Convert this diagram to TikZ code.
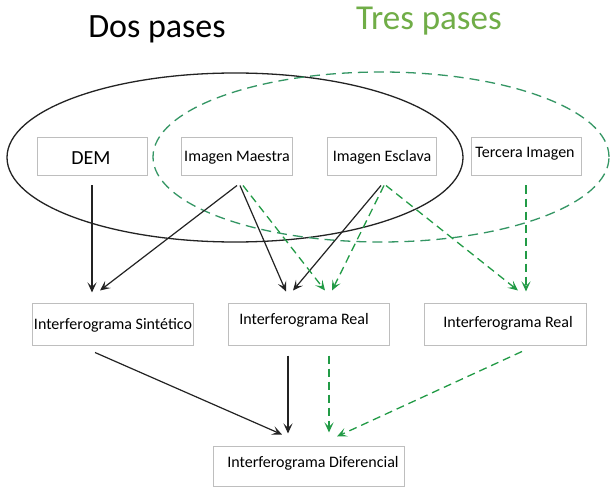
\documentclass[tikz,border=0pt]{standalone}
\usepackage{fontspec}
\setmainfont{Carlito}
\usetikzlibrary{arrows.meta,calc}
\definecolor{ellgreen}{RGB}{52,150,100}
\definecolor{arrgreen}{RGB}{34,155,70}
\definecolor{titlegreen}{RGB}{112,173,71}
\definecolor{boxgray}{RGB}{190,190,190}
\definecolor{linek}{RGB}{35,35,35}
\tikzset{
  box/.style={draw=boxgray, line width=1pt, fill=white, inner sep=0pt},
  lbl/.style={font=\fontsize{16}{19}\selectfont, inner sep=0pt},
  karr/.style={draw=linek, line width=1.2pt, -{Stealth[length=10pt,width=9pt,inset=4.5pt]}},
  garr/.style={draw=arrgreen, line width=1.3pt, dash pattern=on 8pt off 5pt, -{Stealth[length=10pt,width=9pt,inset=4.5pt]}},
}
\begin{document}
\begin{tikzpicture}[x=1pt,y=-1pt]
\useasboundingbox[fill=white] (0,0) rectangle (616,492);

% titles
\node[anchor=base, font=\fontsize{34}{40}\selectfont, inner sep=0pt] (t1) at (157,37.5) {Dos pases};
\node[anchor=base, font=\fontsize{35}{41}\selectfont, text=titlegreen, inner sep=0pt] (t2) at (429,30) {Tres pases};

% ellipses
\draw[linek, line width=1.3pt] (235,157.5) ellipse [x radius=228pt, y radius=84.5pt];
\draw[ellgreen, line width=1.3pt, dash pattern=on 10pt off 6pt] (381,157) ellipse [x radius=228pt, y radius=85pt];

% top row boxes
\node[box, minimum width=110pt, minimum height=38pt] (dem) at (92,157) {};
\node[font=\fontsize{20}{24}\selectfont, inner sep=0pt] at ([shift={(-1,1)}]dem.center) {DEM};
\node[box, minimum width=111pt, minimum height=38pt] (ma) at (236.5,157) {};
\node[lbl] at ([shift={(0.5,1)}]ma.center) {Imagen Maestra};
\node[box, minimum width=109pt, minimum height=38pt] (es) at (381.5,157) {};
\node[lbl] at ([shift={(0.5,0)}]es.center) {Imagen Esclava};
\node[box, minimum width=110pt, minimum height=38pt] (te) at (526,157) {};
\node[lbl] at ([shift={(-1,-3.5)}]te.center) {Tercera Imagen};

% second row boxes
\node[box, minimum width=161pt, minimum height=42pt] (sint) at (112.5,324) {};
\node[lbl] at ([shift={(0.5,1)}]sint.center) {Interferograma Sintético};
\node[box, minimum width=161pt, minimum height=42pt] (r1) at (308.5,324) {};
\node[lbl] at ([shift={(-4.5,-3.5)}]r1.center) {Interferograma Real};
\node[box, minimum width=162pt, minimum height=42pt] (r2) at (505,324) {};
\node[lbl] at ([shift={(3,-1)}]r2.center) {Interferograma Real};

% bottom box
\node[box, minimum width=191pt, minimum height=40pt] (dif) at (308.5,466) {};
\node[lbl] at ([shift={(4.5,-2.5)}]dif.center) {Interferograma Diferencial};

% black arrows
\draw[karr] ([shift={(0,9)}]dem.south) -- ([shift={(-20.5,-10)}]sint.north);
\draw[karr] ([shift={(0.5,9)}]ma.south) -- ([shift={(-12.5,-12)}]sint.north);
\draw[karr] ([shift={(3.5,9)}]ma.south) -- ([shift={(-22.5,-11)}]r1.north);
\draw[karr] ([shift={(-0.5,9)}]es.south) -- ([shift={(-15.5,-12)}]r1.north);
\draw[karr] ([shift={(-17.5,7)}]sint.south) -- ([shift={(-26.5,-11)}]dif.north);
\draw[karr] ([shift={(-20.5,10)}]r1.south) -- ([shift={(-20.5,-12)}]dif.north);

% green dashed arrows
\draw[garr] ([shift={(6.5,9)}]ma.south) -- ([shift={(16.5,-12)}]r1.north);
\draw[garr] ([shift={(2.5,9)}]es.south) -- ([shift={(23.5,-12)}]r1.north);
\draw[garr] ([shift={(4.5,9)}]es.south) -- ([shift={(13,-12)}]r2.north);
\draw[garr] ([shift={(0,9)}]te.south) -- ([shift={(21,-11)}]r2.north);
\draw[garr] ([shift={(20.5,10)}]r1.south) -- ([shift={(20.5,-13)}]dif.north);
\draw[garr] ([shift={(17,6)}]r2.south) -- ([shift={(28.5,-9)}]dif.north);
\end{tikzpicture}
\end{document}
